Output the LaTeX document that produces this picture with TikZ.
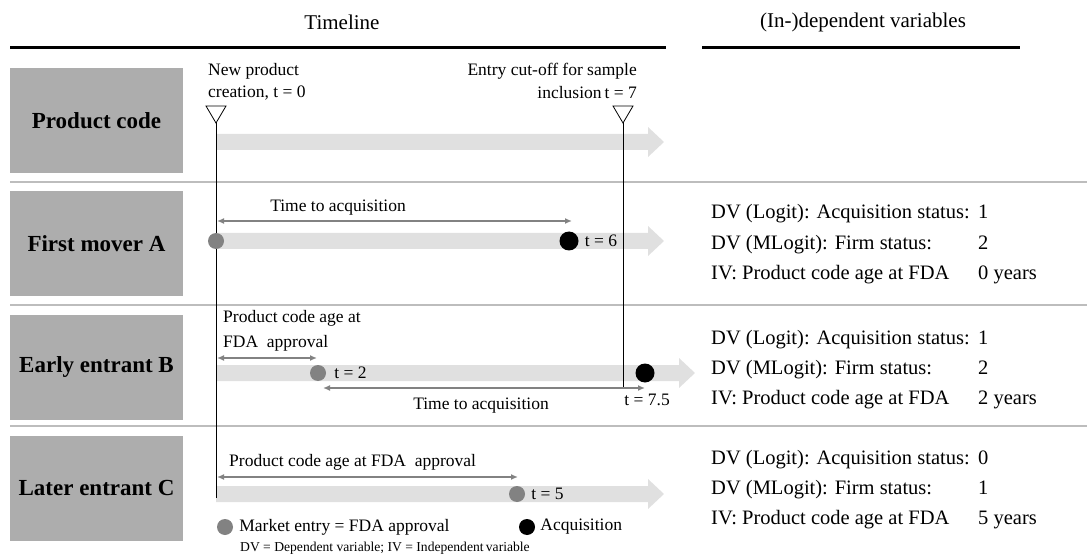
\documentclass[tikz,border=0pt]{standalone}
\usepackage{fontspec}
\setmainfont{Liberation Serif}
\usepackage{xcolor}
\usetikzlibrary{arrows.meta,positioning}
\definecolor{boxgray}{HTML}{ADADAD}
\definecolor{bargray}{HTML}{E0E0E0}
\definecolor{dotgray}{HTML}{828282}
\definecolor{rulegray}{HTML}{BDBDBD}

\begin{document}
\begin{tikzpicture}[x=1pt, y=-1pt,
  every node/.style={inner sep=0pt, font=\fontsize{17.5}{21}\selectfont},
  heading/.style={font=\fontsize{21}{25}\selectfont},
  rowbox/.style={fill=boxgray, minimum width=173pt, minimum height=105pt, font=\fontsize{23}{27}\selectfont\bfseries},
  varline/.style={anchor=base west, font=\fontsize{20.5}{24}\selectfont},
  span/.style={{Latex[length=7pt,width=6pt]}-{Latex[length=7pt,width=6pt]}, draw=dotgray, line width=1.4pt},
  entry/.style={circle, fill=dotgray, minimum size=16pt},
  acq/.style={circle, fill=black, minimum size=19pt}]
  \useasboundingbox (0,0) rectangle (1087,556);

  \node[heading] (timeline) at (342,22) {Timeline};
  \node[heading] (variables) at (863,22) {(In-)dependent variables};
  \draw[line width=3pt] (10,48) -- (666,48);
  \draw[line width=3pt] (702,48) -- (1020,48);
  \foreach \y in {182,305,426} {
    \draw[rulegray, line width=1.5pt] (10,\y) -- (1087,\y);
  }

  \node[rowbox] (box0) at (96.5,120.5) {Product code};
  \node[rowbox] (box1) at (96.5,243.5) {First mover A};
  \node[rowbox] (box2) at (96.5,367) {Early entrant B};
  \node[rowbox] (box3) at (96.5,488) {Later entrant C};

  \foreach \y/\e in {142/664, 241/664, 373/695, 494/664} {
    \fill[bargray] (216,\y-8) -- (\e-16,\y-8) -- (\e-16,\y-15) -- (\e,\y)
      -- (\e-16,\y+15) -- (\e-16,\y+8) -- (216,\y+8) -- cycle;
  }

  \coordinate (start) at (216,122);
  \coordinate (startend) at (216,498);
  \coordinate (cutoff) at (623,122);
  \coordinate (cutoffend) at (623,387);
  \draw[line width=1pt] (start) -- (startend);
  \draw[line width=1pt] (cutoff) -- (cutoffend);
  \foreach \x in {216,623} {
    \draw[fill=white, line width=0.8pt] (\x-10,106) -- (\x+10,106) -- (\x,123) -- cycle;
  }
  \node[anchor=west] (create1) at (208,71) {New product};
  \node[anchor=west] (create2) at (208,93) {creation, t = 0};
  \node[anchor=east] (cut1) at (637,71) {Entry cut-off for sample};
  \node[anchor=east] (cut2) at (637,93) {inclusion\,t = 7};

  \node[entry] (entA) at (216,241) {};
  \node[acq] (acqA) at (569,241) {};
  \node[right=6pt of acqA] (tA) {t = 6};
  \coordinate (sA1) at (217,221);
  \coordinate (sA2) at (572,221);
  \draw[span] (sA1) -- (sA2);
  \node (lblA) at (338,208) {Time to acquisition};

  \node[entry] (entB) at (318,373) {};
  \node[acq] (acqB) at (645,373) {};
  \node[right=8pt of entB] (tB1) {t = 2};
  \node[anchor=east] (tB2) at (670,400) {t = 7.5};
  \coordinate (sB1) at (217,358);
  \coordinate (sB2) at (317,358);
  \coordinate (sB3) at (323,388);
  \coordinate (sB4) at (645,388);
  \draw[span] (sB1) -- (sB2);
  \draw[span] (sB3) -- (sB4);
  \node[anchor=west] (ageB1) at (223,318) {Product code age at};
  \node[anchor=west] (ageB2) at (223,343) {FDA\ \ approval};
  \node (lblB) at (481,406) {Time to acquisition};

  \node[entry] (entC) at (517,494) {};
  \node[right=6pt of entC] (tC) {t = 5};
  \coordinate (sC1) at (217,477);
  \coordinate (sC2) at (518,477);
  \draw[span] (sC1) -- (sC2);
  \node[anchor=west] (ageC) at (229,462) {Product code age at FDA\ \ approval};

  \node[entry] (legE) at (225,527) {};
  \node[right=6pt of legE] (legEtxt) {Market entry = FDA approval};
  \node[acq, minimum size=16pt] (legA) at (527,527) {};
  \node[right=5pt of legA] (legAtxt) {Acquisition};
  \node[anchor=west, font=\fontsize{13.6}{16}\selectfont] (foot) at (240,548)
    {DV = Dependent variable; IV = Independent\,variable};

  \foreach \r/\y/\a/\f/\g in {A/243/1/2/0, B/368/1/2/2, C/488/0/1/5} {
    \node[varline] (acq\r) at (711,\y-24) {DV (Logit): Acquisition status:};
    \node[varline] (firm\r) at (711,\y+6) {DV (MLogit): Firm status:};
    \node[varline] (age\r) at (711,\y+36) {IV: Product code age at FDA};
    \node[varline] (acqv\r) at (978,\y-24) {\a};
    \node[varline] (firmv\r) at (978,\y+6) {\f};
    \node[varline] (agev\r) at (978,\y+36) {\g{} years};
  }
\end{tikzpicture}
\end{document}
